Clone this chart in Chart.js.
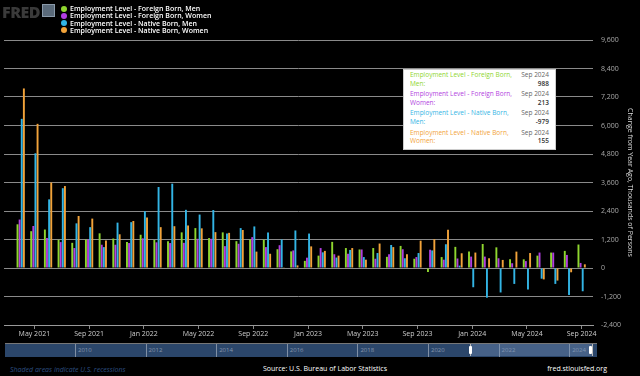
<!DOCTYPE html>
<html>
<head>
<meta charset="utf-8">
<script src="https://cdn.jsdelivr.net/npm/chart.js@4"></script>
<style>
  body { margin: 0; background: #000; width: 640px; height: 376px; overflow: hidden; font-family: "Open Sans", "Noto Sans", sans-serif; }
  #wrap { position: relative; width: 640px; height: 376px; }
  #miGrafico { position: absolute; left: 0; top: 0; }
  #logo { position: absolute; left: 2px; top: 1px; color: #3a3a3a; font: 800 16px "Open Sans", sans-serif; letter-spacing: -0.5px; }
  #logo span { display: inline-block; width: 11px; height: 11px; margin-left: 2px; background: #5a6a7a; border: 1px solid #8a9aaa; vertical-align: 1px; }
  #legend { position: absolute; left: 61px; top: 5px; color: #fff; font: 600 7px "Open Sans", sans-serif; }
  #legend div { height: 7.3px; line-height: 7.3px; white-space: nowrap; }
  #legend i { display: inline-block; width: 6px; height: 6px; border-radius: 50%; margin-right: 3px; vertical-align: -0.5px; }
  #tip { position: absolute; left: 403px; top: 69px; width: 139px; padding: 1px 6px 1px 6px; background: #fff; border: 1px solid #ccc; font: 6.5px "Open Sans", sans-serif; }
  #tip .row { display: flex; justify-content: space-between; column-gap: 4px; line-height: 8.6px; margin-bottom: 2px; white-space: nowrap; }
  #tip .r { text-align: right; color: #666; }
  #tip .r b { color: #333; font-weight: 600; }
  #nav { position: absolute; left: 5px; top: 343px; width: 592px; height: 13px; background: #2b466a; border-top: 1px solid #777; }
  #nav .yr { position: absolute; top: 0; height: 13px; border-left: 1px solid #7f8fa5; color: #8796ad; font: 6px "Open Sans", sans-serif; padding-left: 2px; line-height: 12px; }
  #nav .sel { position: absolute; top: 0; height: 12px; background: rgba(120,150,190,0.35); border-left: 1px solid #bbb; border-right: 1px solid #bbb; }
  #nav .h { position: absolute; top: 2px; width: 3px; height: 8px; background: #fff; border-radius: 1px; }
  #foot1 { position: absolute; left: 10px; top: 365px; color: #2d4f80; font: italic 7px "Open Sans", sans-serif; }
  #foot2 { position: absolute; left: 0; width: 650px; text-align: center; top: 364px; color: #fff; font: 7px "Open Sans", sans-serif; }
  #foot3 { position: absolute; right: 33px; top: 364px; color: #fff; font: 7px "Open Sans", sans-serif; }
</style>
</head>
<body>
<div id="wrap">
  <canvas id="miGrafico" width="640" height="342"></canvas>
  <div id="logo">FRED<span></span></div>
  <div id="legend"></div>
  <div id="tip"></div>
  <div id="nav"></div>
  <div id="foot1">Shaded areas indicate U.S. recessions</div>
  <div id="foot2">Source: U.S. Bureau of Labor Statistics</div>
  <div id="foot3">fred.stlouisfed.org</div>
</div>
<script>
// Meses (abr 2021 - sep 2024)
let meses = ['Apr 2021','May 2021','Jun 2021','Jul 2021','Aug 2021','Sep 2021','Oct 2021','Nov 2021','Dec 2021',
  'Jan 2022','Feb 2022','Mar 2022','Apr 2022','May 2022','Jun 2022','Jul 2022','Aug 2022','Sep 2022','Oct 2022','Nov 2022','Dec 2022',
  'Jan 2023','Feb 2023','Mar 2023','Apr 2023','May 2023','Jun 2023','Jul 2023','Aug 2023','Sep 2023','Oct 2023','Nov 2023','Dec 2023',
  'Jan 2024','Feb 2024','Mar 2024','Apr 2024','May 2024','Jun 2024','Jul 2024','Aug 2024','Sep 2024'];

// Cambio anual, miles de personas
let extranjerosHombres = [1840,1550,1620,1190,1060,1200,1460,1240,1090,1400,1180,1130,1500,1680,1260,1500,1130,1200,1190,790,700,
  300,520,1100,840,780,840,470,930,390,-170,460,890,690,1010,870,370,365,520,650,720,988];
let extranjerasMujeres = [2040,1770,1260,1090,840,1200,980,980,1050,1250,1080,1050,1060,1230,1230,920,1020,1300,880,960,740,
  435,840,580,600,780,390,580,790,460,770,350,400,480,480,410,200,290,650,650,550,213];
let nativosHombres = [6280,4830,2890,3360,1880,1720,880,1910,1930,2390,3410,3550,2450,2250,2440,1450,1680,1750,1490,1200,1580,
  1450,660,440,760,460,630,970,410,630,740,1000,100,-810,-1250,-1030,-670,-900,-450,-670,-1140,-979];
let nativasMujeres = [7560,6070,3600,3450,2190,2080,1160,1420,1980,2130,1720,1760,1790,1670,1510,1480,1600,690,600,30,110,
  910,720,520,840,350,1030,880,580,1150,1210,1610,620,650,410,340,690,630,-480,-530,-180,155];

let ticksY = [-2400,-1200,0,1200,2400,3600,4800,6000,7200,8400,9600];
let anios = ['2010','2012','2014','2016','2018','2020','2022','2024'];

let series = [
  { nombre: 'Employment Level - Foreign Born, Men', datos: extranjerosHombres, color: '#8fd62f' },
  { nombre: 'Employment Level - Foreign Born, Women', datos: extranjerasMujeres, color: '#b23fe0' },
  { nombre: 'Employment Level - Native Born, Men', datos: nativosHombres, color: '#33b5e5' },
  { nombre: 'Employment Level - Native Born, Women', datos: nativasMujeres, color: '#f2a33a' }
];

// Leyenda y tooltip en HTML
document.getElementById('legend').innerHTML = series.map(s =>
  '<div><i style="background:' + s.color + '"></i>' + s.nombre + '</div>').join('');
document.getElementById('tip').innerHTML = series.map(s =>
  '<div class="row"><div style="color:' + s.color + '">' + s.nombre.replace(', ', ',<br>') + ':</div>' +
  '<div class="r">' + meses[meses.length - 1] + '<br><b>' + s.datos[s.datos.length - 1].toLocaleString('en-US') + '</b></div></div>').join('');

// Navegador inferior (decorativo)
let nav = document.getElementById('nav');
let html = '';
anios.forEach((a, i) => { html += '<div class="yr" style="left:' + (70 + i * 70.6) + 'px">' + a + '</div>'; });
html += '<div class="sel" style="left:465px;width:121px"></div>';
html += '<div class="h" style="left:464px"></div><div class="h" style="left:584px"></div>';
nav.innerHTML = html;

let ctx = document.getElementById('miGrafico').getContext('2d');

let datos = {
  datasets: series.map(s => ({
    label: s.nombre,
    data: s.datos.map((v, i) => ({ x: i, y: v })),
    backgroundColor: s.color,
    borderWidth: 0,
    categoryPercentage: 0.62,
    barPercentage: 0.9
  }))
};

let config = {
  type: 'bar',
  data: datos,
  options: {
    responsive: false,
    animation: false,
    layout: { padding: { left: 4, top: 40, right: 0, bottom: 0 } },
    plugins: { legend: { display: false }, tooltip: { enabled: false } },
    scales: {
      x: {
        type: 'linear',
        offset: false,
        min: -1.22,
        max: 41.83,
        afterFit: s => { s.height = 17; },
        afterBuildTicks: s => {
          s.ticks = meses.map((m, i) => ({ value: i })).filter(t => /^(Jan|May|Sep)/.test(meses[t.value]));
        },
        ticks: {
          color: '#ccc',
          font: { size: 7, family: '"Open Sans", sans-serif' },
          padding: 1,
          maxRotation: 0,
          callback: v => meses[v]
        },
        grid: { offset: false, drawOnChartArea: false, drawTicks: true, tickLength: 4, color: '#888' },
        border: { display: true, color: '#999' }
      },
      y: {
        position: 'right',
        min: -2400,
        max: 9600,
        afterFit: s => { s.width = 47; },
        afterBuildTicks: s => { s.ticks = ticksY.map(v => ({ value: v })); },
        ticks: {
          color: '#aaa',
          font: { size: 7, family: '"Open Sans", sans-serif' },
          padding: 8,
          callback: v => v.toLocaleString('en-US')
        },
        grid: { color: '#8a8a8a', drawTicks: false, lineWidth: 1 },
        border: { display: false },
        title: {
          display: true,
          text: 'Change from Year Ago, Thousands of Persons',
          color: '#ddd',
          font: { size: 7, family: '"Open Sans", sans-serif' },
          padding: { top: 6, bottom: 0 }
        }
      }
    }
  }
};

new Chart(ctx, config);
</script>
</body>
</html>
